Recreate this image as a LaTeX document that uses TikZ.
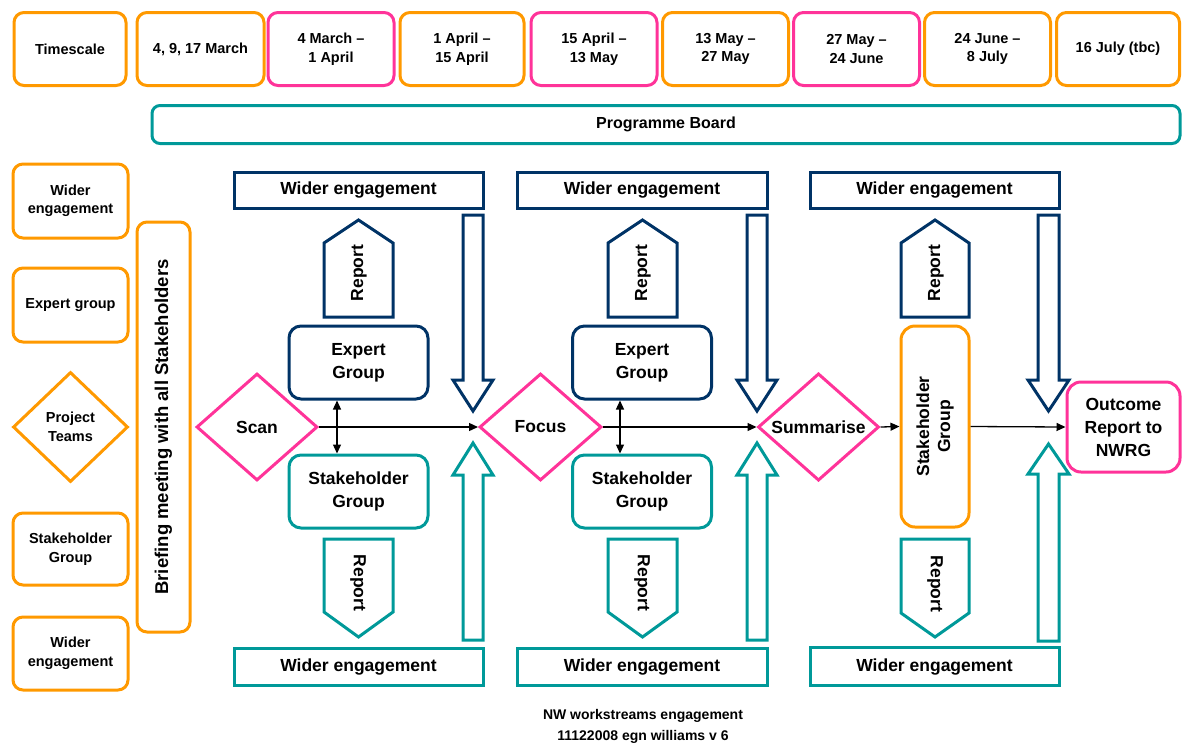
\documentclass[tikz,border=0pt]{standalone}
\usepackage{fontspec}
\setmainfont{Liberation Sans}
\usepackage{graphicx}
\usetikzlibrary{shapes.geometric,arrows.meta}
\definecolor{cOr}{HTML}{FF9900}
\definecolor{cPk}{HTML}{FF3399}
\definecolor{cNv}{HTML}{003366}
\definecolor{cTl}{HTML}{009999}
\tikzset{
  small/.style={font=\bfseries\fontsize{14.5}{18.5}\selectfont},
  big/.style={font=\bfseries\fontsize{17.5}{23}\selectfont},
  rbox/.style={draw, line width=3pt, rounded corners=10pt, align=center, inner sep=0pt, text=black},
  sbox/.style={draw, line width=3pt, align=center, inner sep=0pt, text=black, big},
  dia/.style={draw=cPk, shape=diamond, line width=3pt, align=center, inner sep=0pt, minimum width=121pt, minimum height=107pt, big},
  hollow/.style={line width=3pt, line join=miter},
  flow/.style={line width=1.3pt, -{Triangle[length=9pt,width=8pt]}},
  dbl/.style={line width=1.3pt, {Triangle[length=9pt,width=8pt]}-{Triangle[length=9pt,width=8pt]}},
  lbl/.style={big, inner sep=0pt}
}
\begin{document}
\begin{tikzpicture}[x=1pt,y=-1pt]
\useasboundingbox (0,0) rectangle (1182,745);

% Top timescale row
\node[rbox, small, draw=cOr, minimum width=112pt, minimum height=73pt] (t1) at (70,49) {Timescale};
\node[rbox, small, draw=cOr, minimum width=127pt, minimum height=73pt] (t2) at (200.5,49) {4, 9, 17 March};
\node[rbox, small, draw=cPk, minimum width=126pt, minimum height=73pt] (t3) at (331,49) {4 March --\\1 April};
\node[rbox, small, draw=cOr, minimum width=124pt, minimum height=73pt] (t4) at (462,49) {1 April --\\15 April};
\node[rbox, small, draw=cPk, minimum width=126pt, minimum height=73pt] (t5) at (594,49) {15 April --\\13 May};
\node[rbox, small, draw=cOr, minimum width=126pt, minimum height=73pt] (t6) at (725.5,49) {13 May --\\27 May};
\node[rbox, small, draw=cPk, minimum width=126pt, minimum height=73pt] (t7) at (856.5,49) {27 May --\\24 June};
\node[rbox, small, draw=cOr, minimum width=126pt, minimum height=73pt] (t8) at (987.5,49) {24 June --\\8 July};
\node[rbox, small, draw=cOr, minimum width=123pt, minimum height=73pt] (t9) at (1118,49) {16 July (tbc)};

% Programme board
\node[rbox, draw=cTl, rounded corners=8pt, minimum width=1028pt, minimum height=38pt, font=\bfseries\fontsize{16}{19}\selectfont] (pb) at (666,124.5) {Programme Board};

% Left column
\node[rbox, small, draw=cOr, minimum width=115pt, minimum height=74pt] (l1) at (70.5,201) {Wider\\engagement};
\node[rbox, small, draw=cOr, minimum width=115pt, minimum height=74pt] (l2) at (70.5,305) {Expert group};
\node[draw=cOr, shape=diamond, line width=3pt, align=center, inner sep=0pt, minimum width=115pt, minimum height=110pt, small] (l3) at (70.5,427) {Project\\Teams};
\node[rbox, small, draw=cOr, minimum width=115pt, minimum height=72pt] (l4) at (70.5,549) {Stakeholder\\Group};
\node[rbox, small, draw=cOr, minimum width=115pt, minimum height=73pt] (l5) at (70.5,653.5) {Wider\\engagement};

% Briefing meeting
\node[rbox, draw=cOr, minimum width=53pt, minimum height=410pt, font=\bfseries\fontsize{18.5}{22}\selectfont] (brief) at (163.5,427) {\rotatebox{90}{Briefing meeting with all Stakeholders}};

% Column 1
\node[sbox, draw=cNv, minimum width=249pt, minimum height=36pt] (wt1) at (358.5,190) {Wider engagement};
\node[sbox, draw=cTl, minimum width=249pt, minimum height=37pt] (wb1) at (358.5,666.5) {Wider engagement};
\node[rbox, big, draw=cNv, rounded corners=12pt, minimum width=139pt, minimum height=73pt] (eg1) at (358.5,362.5) {Expert\\Group};
\node[rbox, big, draw=cTl, rounded corners=12pt, minimum width=139pt, minimum height=73pt] (sg1) at (358.5,491.5) {Stakeholder\\Group};
\node[dia] (scan) at (257,427) {Scan};
\draw[hollow, cNv] (324,317) -- (324,243) -- (358.5,220) -- (393,243) -- (393,317) -- cycle;
\node[lbl, rotate=90] (ru1) at (359,273) {Report};
\draw[hollow, cTl] (324,539) -- (324,612) -- (358.5,637) -- (393,612) -- (393,539) -- cycle;
\node[lbl, rotate=-90] (rd1) at (358,583) {Report};
\draw[hollow, cNv] (463,215) -- (483,215) -- (483,380) -- (493,380) -- (473,411) -- (453,380) -- (463,380) -- cycle;
\draw[hollow, cTl] (463,640) -- (483,640) -- (483,475) -- (493,475) -- (473,443) -- (453,475) -- (463,475) -- cycle;

% Column 2
\node[sbox, draw=cNv, minimum width=250pt, minimum height=36pt] (wt2) at (642,190) {Wider engagement};
\node[sbox, draw=cTl, minimum width=250pt, minimum height=37pt] (wb2) at (642,666.5) {Wider engagement};
\node[rbox, big, draw=cNv, rounded corners=12pt, minimum width=139pt, minimum height=73pt] (eg2) at (642,362.5) {Expert\\Group};
\node[rbox, big, draw=cTl, rounded corners=12pt, minimum width=139pt, minimum height=73pt] (sg2) at (642,491.5) {Stakeholder\\Group};
\node[dia, minimum width=122pt] (focus) at (540.5,427) {Focus};
\draw[hollow, cNv] (608,317) -- (608,243) -- (642.5,220) -- (677,243) -- (677,317) -- cycle;
\node[lbl, rotate=90] (ru2) at (643,273) {Report};
\draw[hollow, cTl] (608,539) -- (608,612) -- (642.5,637) -- (677,612) -- (677,539) -- cycle;
\node[lbl, rotate=-90] (rd2) at (642,583) {Report};
\draw[hollow, cNv] (747,215) -- (767,215) -- (767,380) -- (777,380) -- (757,411) -- (737,380) -- (747,380) -- cycle;
\draw[hollow, cTl] (747,640) -- (767,640) -- (767,475) -- (777,475) -- (757,443) -- (737,475) -- (747,475) -- cycle;

% Column 3
\node[sbox, draw=cNv, minimum width=249pt, minimum height=36pt] (wt3) at (934.5,190) {Wider engagement};
\node[sbox, draw=cTl, minimum width=249pt, minimum height=38pt] (wb3) at (934.5,666.5) {Wider engagement};
\node[dia] (summ) at (818.5,427) {Summarise};
\node[rbox, big, draw=cOr, rounded corners=14pt, minimum width=68pt, minimum height=201pt] (sgv) at (935,426.5) {\rotatebox{90}{\begin{tabular}{@{}c@{}}Stakeholder\\[-2pt]Group\end{tabular}}};
\draw[hollow, cNv] (901,317) -- (901,243) -- (935,220) -- (969,243) -- (969,317) -- cycle;
\node[lbl, rotate=90] (ru3) at (936,273) {Report};
\draw[hollow, cTl] (901,539) -- (901,613) -- (935,637) -- (969,613) -- (969,539) -- cycle;
\node[lbl, rotate=-90] (rd3) at (935,584) {Report};
\draw[hollow, cNv] (1038,215) -- (1059,215) -- (1059,380) -- (1069,380) -- (1048.5,411) -- (1028,380) -- (1038,380) -- cycle;
\draw[hollow, cTl] (1038,641) -- (1059,641) -- (1059,474) -- (1069,474) -- (1048.5,444) -- (1028,474) -- (1038,474) -- cycle;

% Outcome
\node[rbox, big, draw=cPk, rounded corners=14pt, minimum width=113pt, minimum height=90pt] (out) at (1123.5,427) {Outcome\\Report to\\NWRG};

% Flow connectors
\draw[flow] (scan.east) -- (focus.west);
\draw[flow] (focus.east) -- (summ.west);
\draw[flow] (summ.east) -- (sgv.west);
\draw[flow] (sgv.east) -- (out.west);
\draw[dbl] ([xshift=-21.5pt]eg1.south) -- ([xshift=-21.5pt]sg1.north);
\draw[dbl] ([xshift=-22pt]eg2.south) -- ([xshift=-22pt]sg2.north);

% Footer
\node[align=center, font=\bfseries\fontsize{14}{21}\selectfont] (foot) at (643,726) {NW workstreams engagement\\11122008 egn williams v 6};
\end{tikzpicture}
\end{document}
